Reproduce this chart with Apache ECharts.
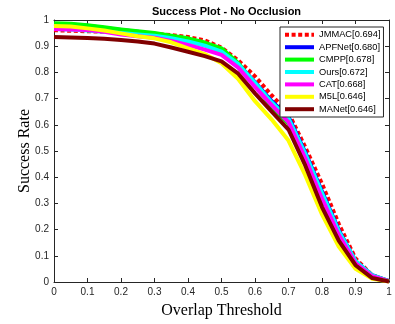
<!DOCTYPE html>
<html>
<head>
<meta charset="utf-8">
<script src="https://cdn.jsdelivr.net/npm/echarts@6/dist/echarts.min.js"></script>
<style>
html,body{margin:0;padding:0;background:#fff;}
#c{width:395px;height:324px;}
</style>
</head>
<body>
<div id="c"></div>
<script>
const thresholds = [0,0.05,0.1,0.15,0.2,0.25,0.3,0.35,0.4,0.45,0.5,0.55,0.6,0.65,0.7,0.75,0.8,0.85,0.9,0.95,1];
const tickLabels = ['0','0.1','0.2','0.3','0.4','0.5','0.6','0.7','0.8','0.9','1'];
const trackerNames = ['JMMAC[0.694]','APFNet[0.680]','CMPP[0.678]','Ours[0.672]','CAT[0.668]','M5L[0.646]','MANet[0.646]'];
const trackerColors = ['#ff0000','#0000ff','#00ff00','#00ffff','#ff00ff','#ffff00','#800000'];
const jmmac = [0.961,0.959,0.957,0.955,0.953,0.950,0.947,0.942,0.935,0.922,0.895,0.846,0.785,0.712,0.645,0.515,0.375,0.222,0.090,0.025,0.003];
const apfnet = [0.985,0.983,0.978,0.970,0.962,0.955,0.945,0.935,0.924,0.908,0.886,0.832,0.762,0.690,0.630,0.495,0.345,0.198,0.080,0.026,0.003];
const cmpp = [0.988,0.986,0.980,0.972,0.964,0.957,0.950,0.940,0.930,0.914,0.892,0.836,0.752,0.668,0.605,0.480,0.335,0.190,0.078,0.024,0.003];
const ours = [0.966,0.964,0.960,0.955,0.950,0.945,0.940,0.930,0.918,0.902,0.879,0.832,0.760,0.685,0.625,0.490,0.340,0.194,0.080,0.025,0.003];
const cat = [0.966,0.964,0.962,0.955,0.945,0.938,0.932,0.920,0.905,0.887,0.867,0.818,0.745,0.675,0.610,0.472,0.318,0.180,0.072,0.022,0.003];
const m5l = [0.977,0.975,0.968,0.960,0.949,0.938,0.930,0.915,0.892,0.870,0.835,0.775,0.690,0.620,0.540,0.408,0.258,0.135,0.050,0.012,0.002];
const manet = [0.935,0.933,0.931,0.928,0.924,0.918,0.910,0.895,0.879,0.862,0.842,0.795,0.720,0.650,0.582,0.445,0.286,0.158,0.064,0.015,0.002];
const trackerValues = [jmmac, apfnet, cmpp, ours, cat, m5l, manet];

const axisColor = '#262626';
const tickFmt = v => { const i = Math.round(v * 10); return tickLabels[i] !== undefined ? tickLabels[i] : ''; };

const chart = echarts.init(document.getElementById('c'), null, {renderer: 'canvas'});
const series = trackerNames.map((name, k) => ({
  name: name,
  type: 'line',
  xAxisIndex: 0,
  yAxisIndex: 0,
  symbol: 'none',
  showSymbol: false,
  smooth: false,
  silent: true,
  lineStyle: {
    color: trackerColors[k],
    width: 4,
    type: k === 0 ? [4, 2.6] : 'solid',
    cap: 'butt',
    join: 'round'
  },
  itemStyle: {color: trackerColors[k]},
  data: thresholds.map((t, i) => [t, trackerValues[k][i]])
}));

const baseAxis = {
  type: 'value', min: 0, max: 1, interval: 0.1,
  axisLine: {show: true, onZero: false, lineStyle: {color: axisColor, width: 1}},
  axisTick: {show: true, inside: true, length: 4, lineStyle: {color: axisColor, width: 1}},
  splitLine: {show: false}
};

chart.setOption({
  animation: false,
  backgroundColor: '#ffffff',
  title: {
    text: 'Success Plot - No Occlusion',
    left: 221.5, textAlign: 'center', top: 1,
    textStyle: {fontFamily: 'Liberation Sans', fontWeight: 'bold', fontSize: 11, color: '#000'}
  },
  grid: {left: 54, right: 6, top: 20, bottom: 41, containLabel: false},
  legend: {
    data: trackerNames,
    orient: 'vertical',
    left: 280, top: 27,
    padding: [3, 3, 3, 3],
    itemWidth: 29, itemHeight: 12, itemGap: 2.8,
    borderColor: '#262626', borderWidth: 1, backgroundColor: '#ffffff',
    lineStyle: {width: 4},
    itemStyle: {opacity: 0},
    textStyle: {fontFamily: 'Liberation Sans', fontSize: 9.3, color: '#000'},
    selectedMode: false
  },
  xAxis: [
    Object.assign({}, baseAxis, {
      position: 'bottom',
      name: 'Overlap Threshold', nameLocation: 'middle', nameGap: 21, nameMoveOverlap: false,
      nameTextStyle: {fontFamily: 'Liberation Serif', fontSize: 16, color: '#000'},
      axisLabel: {show: true, margin: 5, formatter: tickFmt, fontFamily: 'Liberation Sans', fontSize: 10, color: axisColor}
    }),
    Object.assign({}, baseAxis, {position: 'top', axisLabel: {show: false}})
  ],
  yAxis: [
    Object.assign({}, baseAxis, {
      position: 'left',
      name: 'Success Rate', nameLocation: 'middle', nameGap: 21, nameRotate: 90, nameMoveOverlap: false,
      nameTextStyle: {fontFamily: 'Liberation Serif', fontSize: 16, color: '#000'},
      axisLabel: {show: true, margin: 5, formatter: tickFmt, fontFamily: 'Liberation Sans', fontSize: 10, color: axisColor}
    }),
    Object.assign({}, baseAxis, {position: 'right', axisLabel: {show: false}})
  ],
  series: series
});
</script>
</body>
</html>
